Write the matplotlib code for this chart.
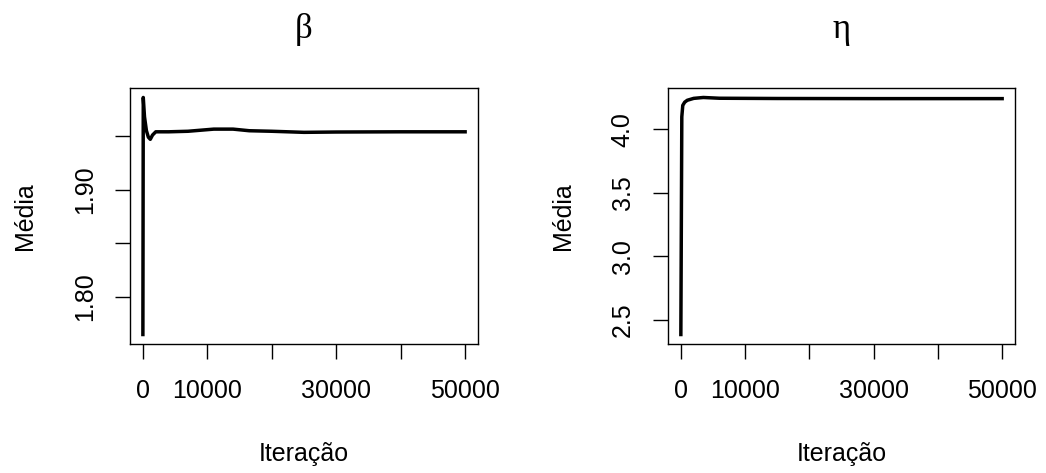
import matplotlib
matplotlib.use("Agg")
import matplotlib.pyplot as plt

# ======================================
#   Médias acumuladas
# ======================================
iter_beta = [1, 60, 250, 550, 850, 1150, 1500, 2000, 4000, 7000, 9000,
             11000, 14000, 16500, 20000, 25000, 30000, 40000, 50000]
media_beta = [1.765, 1.986, 1.968, 1.955, 1.949, 1.947, 1.951, 1.954, 1.954,
              1.9545, 1.9555, 1.9565, 1.9565, 1.955, 1.9545, 1.9535, 1.9538,
              1.954, 1.954]

iter_eta = [1, 150, 300, 600, 1000, 2000, 3500, 6000, 15000, 30000, 50000]
media_eta = [2.385, 4.10, 4.19, 4.215, 4.23, 4.245, 4.252, 4.246, 4.244,
             4.243, 4.243]

x_ticks = [0, 10000, 20000, 30000, 40000, 50000]
x_labels = ["0", "10000", "", "30000", "", "50000"]

beta_ticks = [1.80, 1.85, 1.90, 1.95]
beta_labels = ["1.80", "", "1.90", ""]
eta_ticks = [2.5, 3.0, 3.5, 4.0]
eta_labels = ["2.5", "3.0", "3.5", "4.0"]

plt.rcParams["font.family"] = ["Liberation Sans", "DejaVu Sans"]
fs = 18

fig = plt.figure(figsize=(10.46, 4.73), dpi=100)
ax1 = fig.add_axes([130 / 1046, 1 - 344 / 473, 348 / 1046, 256 / 473])
ax2 = fig.add_axes([668 / 1046, 1 - 344 / 473, 347 / 1046, 256 / 473])


def painel(ax, x, y, titulo, yticks, ylabels):
    ax.plot(x, y, color="black", linewidth=2.5)
    # margens de 4% como no R
    xr = 50000 - 1
    ax.set_xlim(1 - 0.04 * xr, 50000 + 0.04 * xr)
    yr = max(y) - min(y)
    ax.set_ylim(min(y) - 0.04 * yr, max(y) + 0.04 * yr)
    ax.set_xticks(x_ticks)
    ax.set_xticklabels(x_labels)
    ax.set_yticks(yticks)
    ax.set_yticklabels(ylabels, rotation=90, va="center")
    ax.tick_params(axis="both", length=11, width=1.0, labelsize=fs,
                   direction="out")
    ax.tick_params(axis="x", pad=14)
    ax.tick_params(axis="y", pad=13)
    for s in ax.spines.values():
        s.set_linewidth(1.0)
    ax.set_xlabel("Iteração", fontsize=fs, labelpad=28)
    ax.set_ylabel("Média", fontsize=fs, labelpad=26)
    ax.set_title(titulo, fontsize=25, family="Liberation Serif", pad=36)


painel(ax1, iter_beta, media_beta, "β", beta_ticks, beta_labels)
painel(ax2, iter_eta, media_eta, "η", eta_ticks, eta_labels)

fig.savefig("out.png", dpi=100)
